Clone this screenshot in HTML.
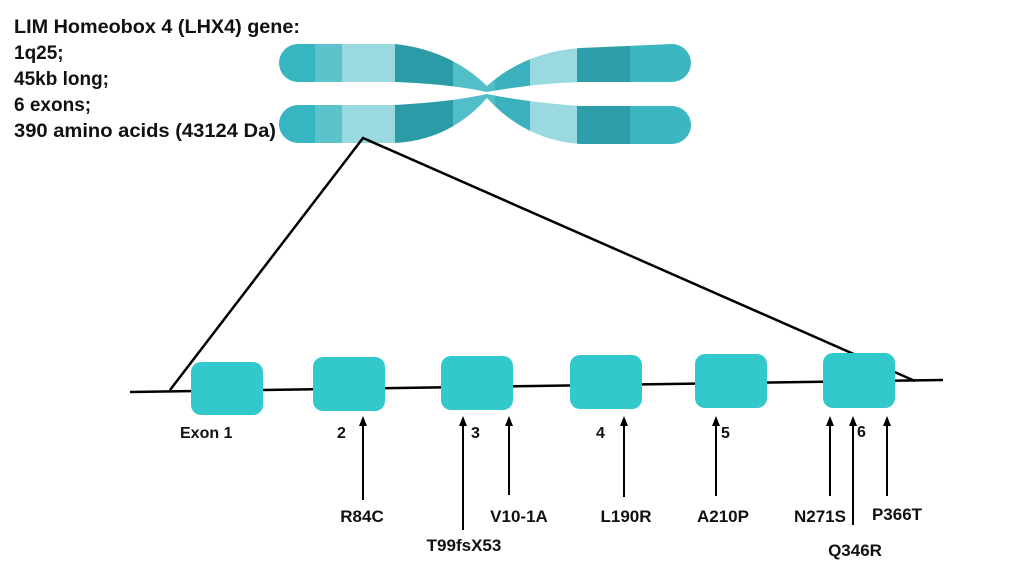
<!DOCTYPE html>
<html><head><style>
html,body{margin:0;padding:0;background:#fff;}
svg{display:block;}
text{font-family:"Liberation Sans",sans-serif;font-weight:bold;fill:#111;}
</style></head><body>
<svg width="1024" height="572" viewBox="0 0 1024 572" xmlns="http://www.w3.org/2000/svg">
<defs>
<clipPath id="chr">
<path d="M298,44 L395,44 Q450,50 487,86 Q525,52 580,48 L672,44 A19 19 0 0 1 672 82 L580,82 Q530,84 487,92 Q450,84 395,82 L298,82 A19 19 0 0 1 298 44 Z"/>
<path d="M298,105 L395,105 Q450,102 487,94 Q525,102 580,106 L672,106 A19 19 0 0 1 672 144 L580,144 Q525,140 487,98 Q450,140 395,143 L298,143 A19 19 0 0 1 298 105 Z"/>
</clipPath>
</defs>
<g clip-path="url(#chr)">
<rect x="270" y="40" width="45" height="110" fill="#37b5c0"/>
<rect x="315" y="40" width="27" height="110" fill="#5cc3cc"/>
<rect x="342" y="40" width="53" height="110" fill="#9ad9df"/>
<rect x="395" y="40" width="58" height="110" fill="#2b9ca7"/>
<rect x="453" y="40" width="42" height="110" fill="#52bfc8"/>
<rect x="495" y="40" width="35" height="110" fill="#3ab1bc"/>
<rect x="530" y="40" width="47" height="110" fill="#9ad9df"/>
<rect x="577" y="40" width="53" height="110" fill="#2e9fa9"/>
<rect x="630" y="40" width="70" height="110" fill="#3cb7c2"/>
</g>
<g font-size="19" textLength="0">
<text x="14" y="33" textLength="286" lengthAdjust="spacingAndGlyphs">LIM Homeobox 4 (LHX4) gene:</text>
<text x="14" y="59">1q25;</text>
<text x="14" y="85">45kb long;</text>
<text x="14" y="111">6 exons;</text>
<text x="14" y="137" textLength="262" lengthAdjust="spacingAndGlyphs">390 amino acids (43124 Da)</text>
</g>
<g stroke="#000" stroke-width="2.5" fill="none">
<polyline points="170,390 363,138 915,381"/>
<line x1="130" y1="392" x2="943" y2="380"/>
</g>
<g fill="#33c9cc">
<rect x="191" y="362" width="72" height="53" rx="10"/>
<rect x="313" y="357" width="72" height="54" rx="10"/>
<rect x="441" y="356" width="72" height="54" rx="10"/>
<rect x="570" y="355" width="72" height="54" rx="10"/>
<rect x="695" y="354" width="72" height="54" rx="10"/>
<rect x="823" y="353" width="72" height="55" rx="10"/>
</g>
<g font-size="16">
<text x="180" y="438">Exon 1</text>
<text x="337" y="438">2</text>
<text x="471" y="438">3</text>
<text x="596" y="438">4</text>
<text x="721" y="438">5</text>
<text x="857" y="437">6</text>
</g>
<g stroke="#000" stroke-width="2">
<line x1="363" y1="424" x2="363" y2="500"/>
<line x1="463" y1="424" x2="463" y2="530"/>
<line x1="509" y1="424" x2="509" y2="495"/>
<line x1="624" y1="424" x2="624" y2="497"/>
<line x1="716" y1="424" x2="716" y2="496"/>
<line x1="830" y1="424" x2="830" y2="496"/>
<line x1="853" y1="424" x2="853" y2="525"/>
<line x1="887" y1="424" x2="887" y2="496"/>
</g>
<g fill="#000">
<polygon points="363,416 359,426 367,426"/>
<polygon points="463,416 459,426 467,426"/>
<polygon points="509,416 505,426 513,426"/>
<polygon points="624,416 620,426 628,426"/>
<polygon points="716,416 712,426 720,426"/>
<polygon points="830,416 826,426 834,426"/>
<polygon points="853,416 849,426 857,426"/>
<polygon points="887,416 883,426 891,426"/>
</g>
<g font-size="17" text-anchor="middle">
<text x="362" y="522">R84C</text>
<text x="464" y="551">T99fsX53</text>
<text x="519" y="522">V10-1A</text>
<text x="626" y="522">L190R</text>
<text x="723" y="522">A210P</text>
<text x="820" y="522">N271S</text>
<text x="855" y="556">Q346R</text>
<text x="897" y="520">P366T</text>
</g>
</svg>
</body></html>
